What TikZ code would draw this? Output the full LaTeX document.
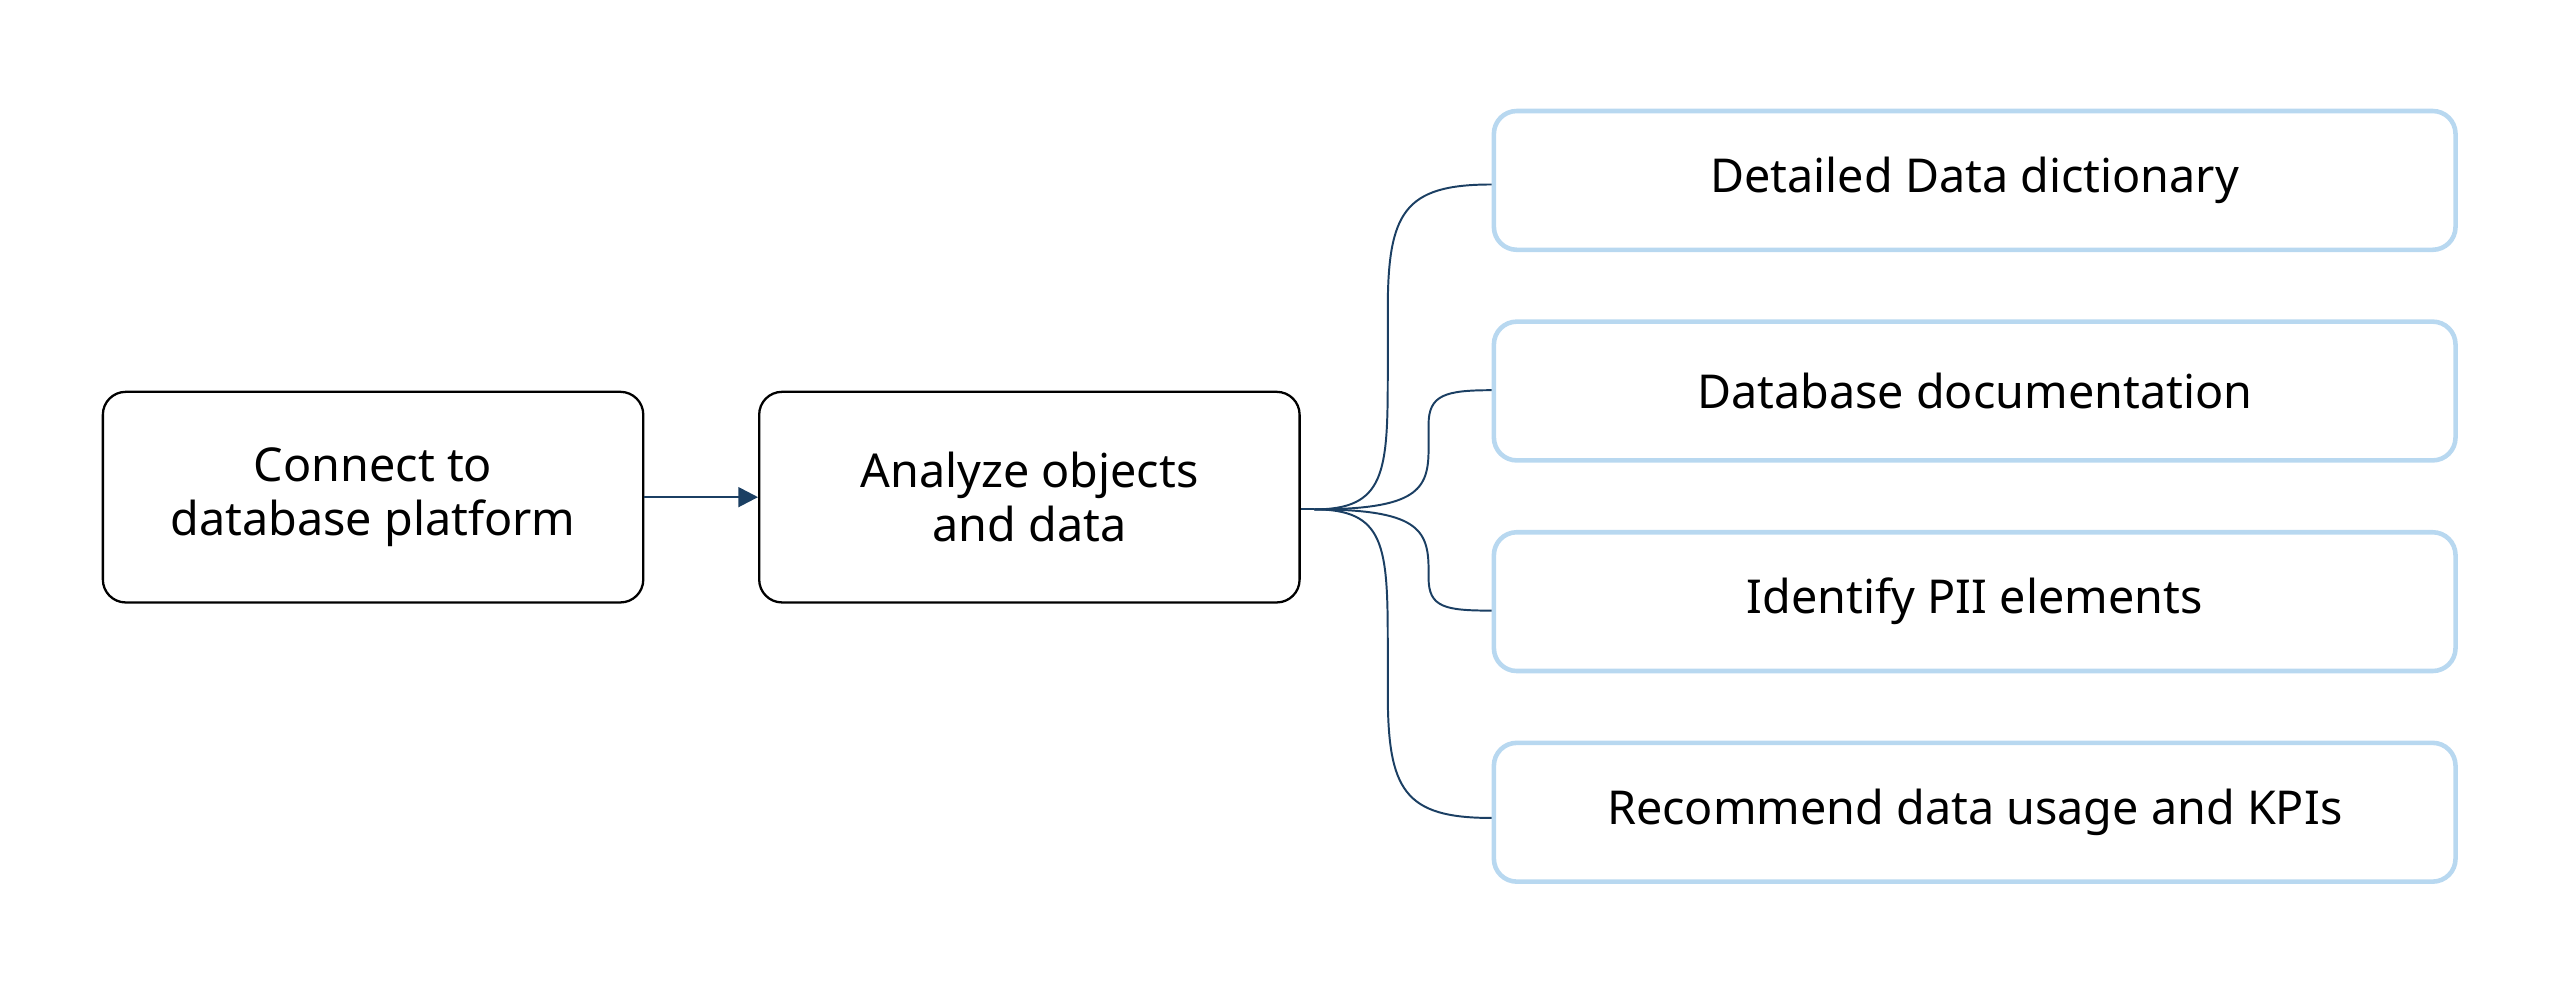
\documentclass[tikz,border=0pt]{standalone}
\usepackage{fontspec}
\setmainfont{Noto Sans}
\usetikzlibrary{arrows.meta}
\definecolor{navy}{HTML}{1B3F63}
\definecolor{lblue}{HTML}{B8D8F0}
\begin{document}
\begin{tikzpicture}[x=0.5pt,y=-0.5pt,
 lbox/.style={draw=black,line width=0.7pt,rounded corners=7pt,minimum width=165.5pt,minimum height=64.5pt,align=center,font=\fontsize{14.3}{16.5}\selectfont,inner sep=0pt},
 rbox/.style={draw=lblue,line width=1.4pt,rounded corners=7pt,minimum width=294.5pt,minimum height=42.5pt,align=center,font=\fontsize{14.3}{16.5}\selectfont,inner sep=0pt},
 con/.style={draw=navy,line width=0.6pt}]
\useasboundingbox (0,0) rectangle (1568,609);
\node[lbox] (a) at (228.5,304.5) {Connect to\\database platform};
\node[lbox] (b) at (630.5,304.5) {Analyze objects\\and data};
\node[rbox] (r1) at (1209.5,110.5) {Detailed Data dictionary};
\node[rbox] (r2) at (1209.5,239.5) {Database documentation};
\node[rbox] (r3) at (1209.5,368.5) {Identify PII elements};
\node[rbox] (r4) at (1209.5,497.5) {Recommend data usage and KPIs};
\draw[con,line width=0.8pt,-{Triangle[length=6pt,width=6pt]}] (a.east) -- (b.west);
\coordinate (h) at (805,312);
\draw[con] (b.east|-h) -- (h);
\draw[con] (h) .. controls (848,312) and (850,290) .. (850,230) -- (850,190) .. controls (850,130) and (860,113) .. (r1.west|-0,113);
\draw[con] (h) .. controls (868,312) and (875,300) .. (875,275) -- (875,260) .. controls (875,242) and (885,239) .. (r2.west|-0,239);
\draw[con] (h) .. controls (868,312) and (875,324) .. (875,349) -- (875,354) .. controls (875,372) and (885,374) .. (r3.west|-0,374);
\draw[con] (h) .. controls (848,312) and (850,334) .. (850,394) -- (850,424) .. controls (850,484) and (860,501) .. (r4.west|-0,501);
\end{tikzpicture}
\end{document}
